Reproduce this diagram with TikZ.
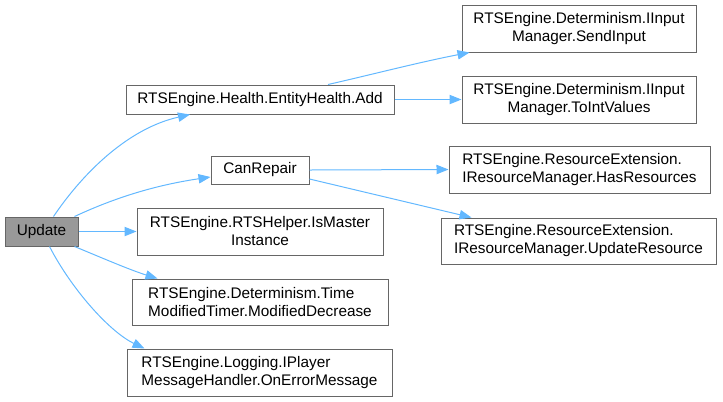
\documentclass[tikz,border=0pt]{standalone}
\usepackage{fontspec}
\setmainfont{Liberation Sans}
\usetikzlibrary{arrows.meta,calc}
\definecolor{edgeblue}{HTML}{63B8FF}
\definecolor{boxgray}{HTML}{666666}
\definecolor{fillgray}{HTML}{999999}
\tikzset{
  fn/.style={draw=boxgray, line width=0.75pt, fill=white, inner sep=0pt,
    font=\fontsize{11.5}{13.5}\selectfont},
  cur/.style={fn, fill=fillgray},
  call/.style={draw=edgeblue, line width=0.75pt, -{Triangle[length=9pt,width=7pt]}}
}
\begin{document}
\begin{tikzpicture}[x=0.75pt,y=-0.75pt]
\useasboundingbox (0,0) rectangle (723,401);
\node[cur, minimum width={73*0.75pt}, minimum height={29*0.75pt}] (u) at (41.5,231.5) {Update};
\node[fn, minimum width={268*0.75pt}, minimum height={29*0.75pt}] (add) at (260,99.5) {RTSEngine.Health.EntityHealth.Add};
\node[fn, minimum width={98*0.75pt}, minimum height={28*0.75pt}] (cr) at (260,170) {CanRepair};
\node[fn, minimum width={246*0.75pt}, minimum height={47*0.75pt}, align=center] (im) at (260,231.5) {RTSEngine.RTSHelper.IsMaster\\Instance};
\node[fn, minimum width={256*0.75pt}, minimum height={46*0.75pt}, align=left] (tm) at (260,302) {RTSEngine.Determinism.Time\\ModifiedTimer.ModifiedDecrease};
\node[fn, minimum width={265*0.75pt}, minimum height={47*0.75pt}, align=left] (lg) at (259.5,372.5) {RTSEngine.Logging.IPlayer\\MessageHandler.OnErrorMessage};
\node[fn, minimum width={234*0.75pt}, minimum height={47*0.75pt}, align=center] (si) at (579,28.5) {RTSEngine.Determinism.IInput\\Manager.SendInput};
\node[fn, minimum width={234*0.75pt}, minimum height={47*0.75pt}, align=center] (ti) at (579,99.5) {RTSEngine.Determinism.IInput\\Manager.ToIntValues};
\node[fn, minimum width={261*0.75pt}, minimum height={47*0.75pt}, align=left] (hr) at (579.5,169.5) {RTSEngine.ResourceExtension.\\IResourceManager.HasResources};
\node[fn, minimum width={275*0.75pt}, minimum height={46*0.75pt}, align=left] (ur) at (578.5,241) {RTSEngine.ResourceExtension.\\IResourceManager.UpdateResource};

\draw[call] ($(u.north)+(12,0)$) .. controls (85,170) and (130,128) .. ($(add.south)+(-70,0)$);
\draw[call] ($(u.north east)+(-4,0)$) .. controls (110,200) and (150,186) .. ($(cr.west)+(0,7)$);
\draw[call] (u.east) -- (im.west);
\draw[call] ($(u.south east)+(-4,0)$) .. controls (100,257) and (130,270) .. ($(tm.north west)+(26,0)$);
\draw[call] ($(u.south)+(8,0)$) .. controls (72,290) and (110,332) .. ($(lg.north west)+(18,0)$);
\draw[call] ($(add.north)+(68,0)$) .. controls (370,75) and (420,62) .. ($(si.south west)+(8,0)$);
\draw[call] (add.east) -- (ti.west);
\draw[call] (cr.east) -- (hr.west);
\draw[call] ($(cr.east)+(0,9)$) -- ($(ur.north west)+(31,0)$);
\end{tikzpicture}
\end{document}
